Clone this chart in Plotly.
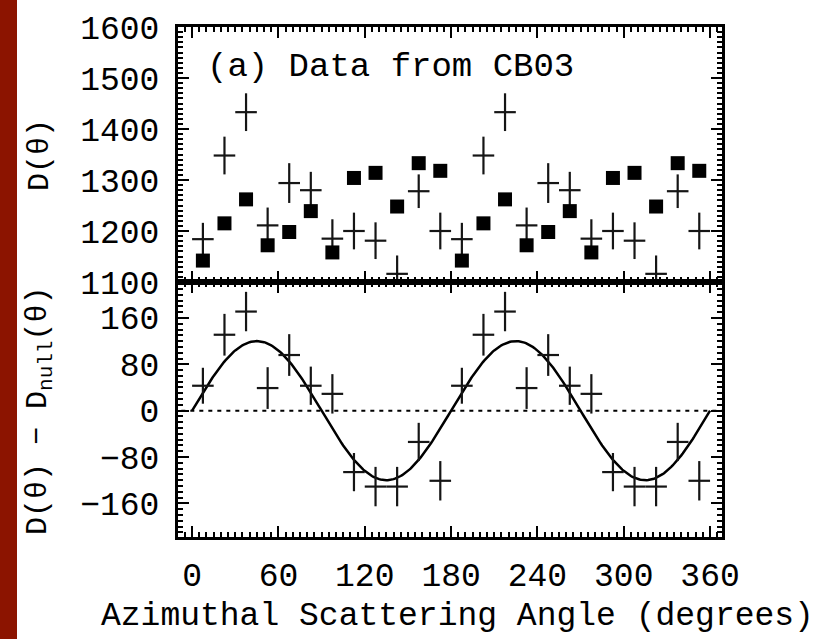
import numpy as np
import plotly.graph_objects as go
from plotly.subplots import make_subplots

# ---- data ----
angles = [7.5, 22.5, 37.5, 52.5, 67.5, 82.5, 97.5, 112.5, 127.5, 142.5, 157.5, 172.5,
          187.5, 202.5, 217.5, 232.5, 247.5, 262.5, 277.5, 292.5, 307.5, 322.5, 337.5, 352.5]
d_obs = [1184, 1348, 1433, 1211, 1294, 1280, 1185, 1200, 1181, 1116, 1278, 1200,
         1184, 1348, 1433, 1211, 1294, 1280, 1185, 1200, 1181, 1116, 1278, 1200]
d_obs_err = [32, 37, 37, 35, 39, 36, 38, 36, 36, 36, 33, 36,
             32, 37, 37, 35, 39, 36, 38, 36, 36, 36, 33, 36]
d_null = [1142, 1215, 1262, 1172, 1198, 1239, 1158, 1304, 1314, 1248, 1333, 1318,
          1142, 1215, 1262, 1172, 1198, 1239, 1158, 1304, 1314, 1248, 1333, 1318]
d_diff = [43, 131, 171, 39, 96, 43, 29, -106, -131, -131, -54, -121,
          43, 131, 171, 39, 96, 43, 29, -106, -131, -131, -54, -121]
d_diff_err = [31, 36, 34, 36, 36, 33, 34, 33, 34, 34, 33, 34,
              31, 36, 34, 36, 36, 33, 34, 33, 34, 34, 33, 34]
bin_halfwidth = [7.5] * len(angles)
model_amplitude = 120  # fitted modulation amplitude
x_ticks = [0, 60, 120, 180, 240, 300, 360]

theta = np.linspace(0, 360, 361)
model = model_amplitude * np.sin(np.radians(2 * theta))

FONT = "Liberation Mono"
INK = "#151515"

fig = make_subplots(rows=2, cols=1, shared_xaxes=True, vertical_spacing=0)

# top panel
fig.add_trace(go.Scatter(
    x=angles, y=d_obs, mode="markers",
    marker=dict(size=1, color="rgba(0,0,0,0)"),
    error_x=dict(type="data", array=bin_halfwidth, width=0, thickness=2.2, color=INK),
    error_y=dict(type="data", array=d_obs_err, width=0, thickness=2.2, color=INK),
    showlegend=False, cliponaxis=True), row=1, col=1)
fig.add_trace(go.Scatter(
    x=angles, y=d_null, mode="markers",
    marker=dict(symbol="square", size=14, color="black", line=dict(width=0)),
    showlegend=False), row=1, col=1)

# bottom panel
fig.add_trace(go.Scatter(
    x=[-20, 380], y=[0, 0], mode="lines",
    line=dict(color="black", width=2, dash="4px,5px"),
    showlegend=False), row=2, col=1)
fig.add_trace(go.Scatter(
    x=theta, y=model, mode="lines",
    line=dict(color="black", width=2.5),
    showlegend=False), row=2, col=1)
fig.add_trace(go.Scatter(
    x=angles, y=d_diff, mode="markers",
    marker=dict(size=1, color="rgba(0,0,0,0)"),
    error_x=dict(type="data", array=bin_halfwidth, width=0, thickness=2.2, color=INK),
    error_y=dict(type="data", array=d_diff_err, width=0, thickness=2.2, color=INK),
    showlegend=False), row=2, col=1)

tickfont = dict(family=FONT, size=33, color="black")
axis_common = dict(showline=True, linewidth=3, linecolor="black", mirror="allticks",
                   ticks="inside", ticklen=11, tickwidth=2, tickcolor="black",
                   showgrid=False, zeroline=False, tickfont=tickfont)
minor_common = dict(ticks="inside", ticklen=5, tickwidth=1.5, tickcolor="black", showgrid=False)

fig.update_xaxes(range=[-9.8, 368.3], tickmode="array", tickvals=x_ticks,
                 minor=dict(dtick=5, tick0=0, **minor_common), **axis_common)
fig.update_xaxes(showticklabels=False, row=1, col=1)
fig.update_xaxes(showticklabels=True, ticklabelstandoff=6, row=2, col=1)

fig.update_yaxes(range=[1100, 1600], tick0=1100, dtick=100,
                 minor=dict(dtick=10, tick0=1100, **minor_common),
                 ticklabelstandoff=9, row=1, col=1, **axis_common)
fig.update_yaxes(range=[-218, 222], tick0=0, dtick=80,
                 minor=dict(dtick=10, tick0=0, **minor_common),
                 ticklabelstandoff=9, row=2, col=1, **axis_common)

L, R, T, B = 178, 96, 23, 102
W, H = 818, 639
pw, ph = W - L - R, H - T - B


def px_x(x):
    return (x - L) / pw


def px_y(y):
    return (H - B - y) / ph


fig.add_shape(type="rect", xref="paper", yref="paper",
              x0=px_x(0), x1=px_x(17), y0=px_y(H + 5), y1=px_y(-5),
              fillcolor="#8c1400", line=dict(width=0), layer="below")

fig.add_annotation(text="(a) Data from CB03", xref="paper", yref="paper",
                   x=px_x(205), y=px_y(63), xanchor="left", yanchor="middle",
                   showarrow=False, font=dict(family=FONT, size=34, color="black"))
fig.add_annotation(text="D(θ)", xref="paper", yref="paper",
                   x=px_x(40), y=px_y(152), xanchor="center", yanchor="middle",
                   textangle=-90, showarrow=False,
                   font=dict(family=FONT, size=30, color="black"))
fig.add_annotation(text="D(θ) − D<sub>null</sub>(θ)", xref="paper", yref="paper",
                   x=px_x(40), y=px_y(410), xanchor="center", yanchor="middle",
                   textangle=-90, showarrow=False,
                   font=dict(family=FONT, size=30, color="black"))
fig.add_annotation(text="Azimuthal Scattering Angle (degrees)", xref="paper", yref="paper",
                   x=px_x(457), y=px_y(617), xanchor="center", yanchor="middle",
                   showarrow=False, font=dict(family=FONT, size=33, color="black"))

fig.update_layout(width=W, height=H, autosize=False,
                  margin=dict(l=L, r=R, t=T, b=B, pad=0),
                  paper_bgcolor="white", plot_bgcolor="white")

fig.write_html("out.html")
